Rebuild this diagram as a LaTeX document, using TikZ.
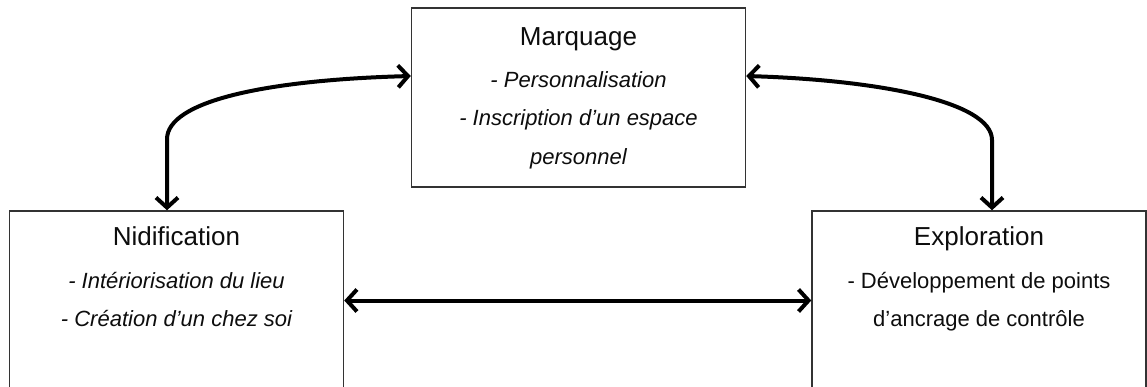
\documentclass[tikz,border=0pt]{standalone}
\usepackage{fontspec}
\setmainfont{Liberation Sans}
\usetikzlibrary{arrows.meta}
\begin{document}
\begin{tikzpicture}[x=1pt,y=-1pt,
  box/.style={draw=black!80, line width=1.5pt, fill=white, inner sep=0pt,
    minimum width=334pt, minimum height=179pt},
  ttl/.style={anchor=base, font=\fontsize{26}{30}\selectfont, text=black!95},
  itm/.style={anchor=base, font=\fontsize{22}{26}\selectfont\itshape, text=black!95},
  itmr/.style={anchor=base, font=\fontsize{22}{26}\selectfont, text=black!95},
  tip/.style={Straight Barb[length=14pt,width=20pt,line width=4pt]},
  arr/.style={line width=4pt, {Straight Barb[length=10pt,width=22pt]}-{Straight Barb[length=10pt,width=22pt]}, line cap=round, line join=round},
]
\clip (0,0) rectangle (1147,386);
\fill[white] (0,0) rectangle (1147,386);
\node[box] (mq) at (578.5,97.5) {};
\node[box] (nd) at (176.5,300.5) {};
\node[box] (ex) at (979,300.5) {};
\coordinate (mqL) at ([yshift=21.5pt]mq.west);
\coordinate (mqR) at ([yshift=21.5pt]mq.east);
\coordinate (ndT) at ([xshift=-9.5pt]nd.north);
\coordinate (exT) at ([xshift=13pt]ex.north);
\node[ttl] (mqt) at (578.5,45) {Marquage};
\node[itm] (mq1) at (578.5,87) {- Personnalisation};
\node[itm] (mq2) at (578.5,125) {- Inscription d’un espace};
\node[itm] (mq3) at (578.5,164) {personnel};
\node[ttl] (ndt) at (176.5,245) {Nidification};
\node[itm] (nd1) at (176.5,288) {- Intériorisation du lieu};
\node[itm] (nd2) at (176.5,326) {- Création d’un chez soi};
\node[ttl] (ext) at (979,245) {Exploration};
\node[itmr] (ex1) at (979,288) {- Développement de points};
\node[itmr] (ex2) at (979,326) {d’ancrage de contrôle};
\draw[arr] (nd.east) -- (ex.west);
\draw[arr] (ndT) -- ++(0,-71) .. controls +(0,-38) and (265,80) .. (mqL);
\draw[arr] (mqR) .. controls (880,80) and (992,102) .. (992,140) -- (exT);
\end{tikzpicture}
\end{document}
